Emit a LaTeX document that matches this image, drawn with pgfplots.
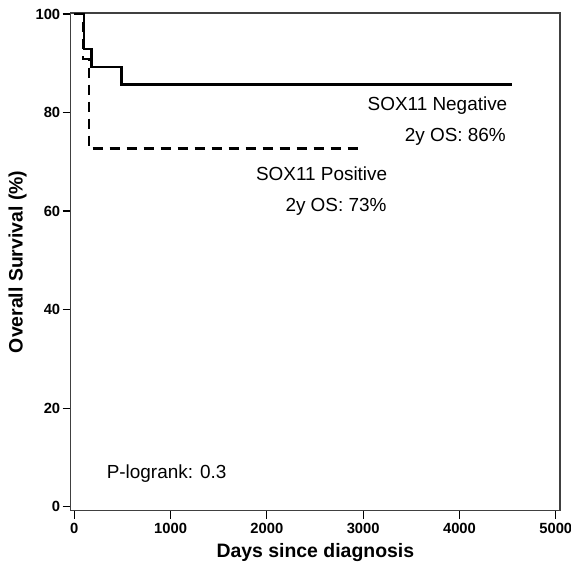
\documentclass[border=0pt]{standalone}
\usepackage{fontspec}
\setmainfont{Liberation Sans}
\usepackage{pgfplots}
\pgfplotsset{compat=1.18}

\begin{document}
\begin{tikzpicture}
\useasboundingbox (-70.7bp,-55.3bp) rectangle (500.3bp,510.7bp);
\begin{axis}[
    scale only axis,
    width=489.3bp, height=497.7bp,
    xmin=-37, xmax=5044,
    ymin=-0.8, ymax=100.2,
    xtick={0,1000,2000,3000,4000,5000},
    ytick={0,20,40,60,80,100},
    xtick pos=left, ytick pos=left,
    tick align=outside,
    major tick length=8bp,
    axis line style={black!75, line width=1.2bp},
    every tick/.style={black, line width=1.2bp},
    /pgf/number format/assume math mode=true,
    /pgf/number format/1000 sep={},
    tick label style={font=\fontsize{14.8}{15}\selectfont\bfseries},
    xticklabel style={yshift=-1bp},
    yticklabel style={xshift=1bp},
    xlabel={Days since diagnosis},
    ylabel={Overall Survival (\%)},
    label style={font=\fontsize{19.5}{21}\selectfont\bfseries},
    xlabel style={yshift=-3bp},
    ylabel style={yshift=2bp},
    clip=false,
  ]
  % SOX11 Negative
  \addplot[const plot, black, line width=2.2bp] coordinates {
    (0,100) (100,100) (100,92.9) (180,92.9) (180,89.3) (490,89.3) (490,85.7) (4543,85.7)
  };
  % SOX11 Positive
  \addplot[const plot, black, line width=2.2bp, dash pattern=on 10bp off 7bp] coordinates {
    (0,100) (90,100) (90,90.9) (150,90.9) (150,72.7) (2960,72.7)
  };
  \node[anchor=base east, font=\fontsize{19}{20}\selectfont] at (axis cs:4533,80.4) {SOX11 Negative};
  \node[anchor=base east, font=\fontsize{19}{20}\selectfont] at (axis cs:4518,74.1) {2y OS: 86\%};
  \node[anchor=base east, font=\fontsize{19}{20}\selectfont] at (axis cs:3286,66.3) {SOX11 Positive};
  \node[anchor=base east, font=\fontsize{19}{20}\selectfont] at (axis cs:3279,59.9) {2y OS: 73\%};
  \node[anchor=base west, font=\fontsize{19}{20}\selectfont] at (axis cs:301,5.8) {P-logrank: 0.3};
\end{axis}
\end{tikzpicture}
\end{document}
